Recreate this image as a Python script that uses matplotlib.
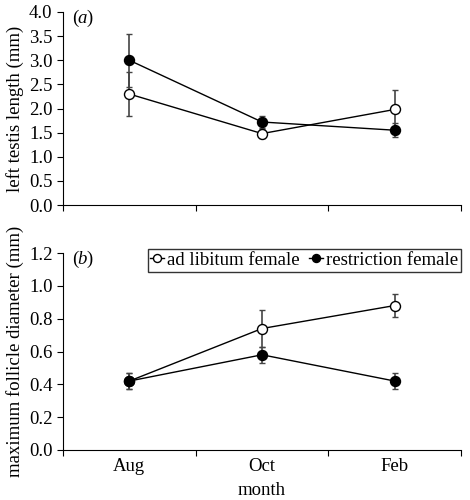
import matplotlib
matplotlib.use("Agg")
import matplotlib.pyplot as plt
from matplotlib.ticker import FixedLocator, NullFormatter

plt.rcParams['font.family'] = ['Liberation Serif', 'DejaVu Serif']
plt.rcParams['font.size'] = 13.5

months = ["Aug", "Oct", "Feb"]
testis_adlib = [2.30, 1.48, 1.98]
testis_adlib_err = [0.45, 0.10, 0.40]
testis_restr = [3.00, 1.72, 1.55]
testis_restr_err = [0.55, 0.13, 0.15]
foll_adlib = [0.42, 0.74, 0.88]
foll_adlib_err = [0.05, 0.11, 0.07]
foll_restr = [0.42, 0.58, 0.42]
foll_restr_err = [0.05, 0.05, 0.05]
legend_labels = ["ad libitum female", "restriction female"]

fig = plt.figure(figsize=(4.7, 5.0), dpi=100)
ax1 = fig.add_axes([0.134, 0.59, 0.847, 0.386])
ax2 = fig.add_axes([0.134, 0.10, 0.847, 0.394])

x = list(range(1, len(months) + 1))

def draw(ax, adlib, adlib_err, restr, restr_err):
    h1 = ax.errorbar(x, adlib, yerr=adlib_err, fmt='-o', color='black', mfc='white',
                     mec='black', ms=7.2, mew=1.0, lw=1, ecolor='#444444', elinewidth=1.2,
                     capsize=2, capthick=1, zorder=3)
    h2 = ax.errorbar(x, restr, yerr=restr_err, fmt='-o', color='black', mfc='black',
                     mec='black', ms=7.2, mew=1.0, lw=1, ecolor='#444444', elinewidth=1.2,
                     capsize=2, capthick=1, zorder=3)
    ax.set_xlim(0.5, len(months) + 0.5)
    ax.xaxis.set_major_locator(FixedLocator([i + 0.5 for i in range(len(months) + 1)]))
    ax.xaxis.set_major_formatter(NullFormatter())
    ax.spines['top'].set_visible(False)
    ax.spines['right'].set_visible(False)
    ax.tick_params(axis='both', direction='out', length=4, width=0.8)
    return h1, h2

def panel_label(ax, letter):
    ax.text(0.022, 1.012, "(", transform=ax.transAxes, va='top', ha='left')
    ax.text(0.036, 1.012, letter, transform=ax.transAxes, va='top', ha='left', style='italic')
    ax.text(0.058, 1.012, ")", transform=ax.transAxes, va='top', ha='left')

draw(ax1, testis_adlib, testis_adlib_err, testis_restr, testis_restr_err)
ax1.set_ylim(0, 4.0)
ax1.set_yticks([0, 0.5, 1.0, 1.5, 2.0, 2.5, 3.0, 3.5, 4.0])
ax1.set_yticklabels([f"{v:.1f}" for v in ax1.get_yticks()])
ax1.set_ylabel("left testis length (mm)")
panel_label(ax1, "a")

h1, h2 = draw(ax2, foll_adlib, foll_adlib_err, foll_restr, foll_restr_err)
ax2.set_ylim(0, 1.2)
ax2.set_yticks([0, 0.2, 0.4, 0.6, 0.8, 1.0, 1.2])
ax2.set_yticklabels([f"{v:.1f}" for v in ax2.get_yticks()])
ax2.set_xticks(x, minor=True)
ax2.set_xticklabels(months, minor=True)
ax2.tick_params(axis='x', which='minor', length=0, pad=6)
ax2.set_ylabel("maximum follicle diameter (mm)")
ax2.set_xlabel("month", labelpad=5)
panel_label(ax2, "b")

leg = ax2.legend([h1[0], h2[0]], legend_labels, ncol=2, loc='upper right',
                 bbox_to_anchor=(1.0, 1.02), frameon=True, fancybox=False,
                 handlelength=0.75, handletextpad=0.15, columnspacing=0.5,
                 borderpad=0.15, borderaxespad=0.0, markerscale=0.8)
leg.get_frame().set_edgecolor('black')
leg.get_frame().set_linewidth(1.0)

fig.savefig("out.png", dpi=100)
